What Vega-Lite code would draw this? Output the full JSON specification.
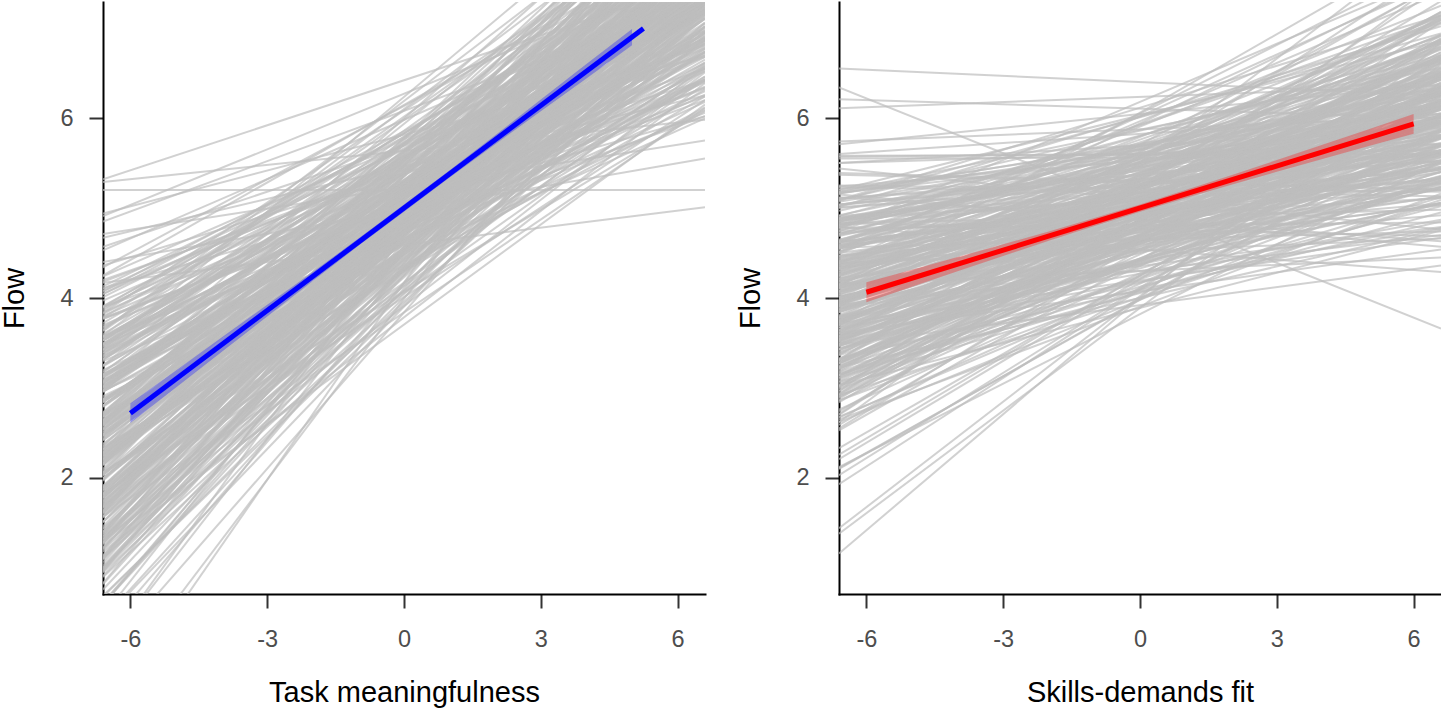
{
  "$schema": "https://vega.github.io/schema/vega-lite/v6.json",
  "background": "white",
  "padding": {"left": 0, "top": 2, "right": 0, "bottom": 0},
  "spacing": 31,
  "config": {
    "view": {"stroke": null},
    "font": "Liberation Sans",
    "axis": {
      "grid": false,
      "domainColor": "#000000",
      "domainWidth": 2,
      "domainCap": "square",
      "tickColor": "#333333",
      "tickWidth": 2,
      "tickSize": 14,
      "labelFont": "Liberation Sans",
      "labelFontSize": 23.5,
      "labelColor": "#4D4D4D",
      "labelFlush": false,
      "labelExpr": "'' + datum.value",
      "titleFont": "Liberation Sans",
      "titleFontSize": 29,
      "titleFontWeight": "normal",
      "titleColor": "#000000"
    },
    "axisX": {"labelPadding": 19, "titlePadding": 28},
    "axisY": {"labelPadding": 16, "titlePadding": 30}
  },
  "datasets": {
    "linesA": [
      {"l":-0.65,"r":8.99},{"l":-0.43,"r":8.41},{"l":0.09,"r":8.68},{"l":0.02,"r":7.66},{"l":0.28,"r":8.06},
      {"l":0.08,"r":9.35},{"l":0.43,"r":7.78},{"l":0.59,"r":8.51},{"l":0.42,"r":7.39},{"l":0.6,"r":7.9},
      {"l":0.47,"r":8.9},{"l":0.68,"r":7.33},{"l":0.61,"r":8.42},{"l":0.95,"r":7.14},{"l":0.76,"r":7.85},
      {"l":0.96,"r":8.77},{"l":0.69,"r":7.18},{"l":0.99,"r":8.16},{"l":1.12,"r":8.77},{"l":0.91,"r":7.79},
      {"l":1.06,"r":8.27},{"l":0.9,"r":7.02},{"l":1.1,"r":8.12},{"l":1.0,"r":8.53},{"l":1.33,"r":7.53},
      {"l":1.13,"r":7.89},{"l":1.31,"r":6.51},{"l":1.03,"r":7.66},{"l":1.32,"r":8.43},{"l":1.44,"r":7.44},
      {"l":1.22,"r":7.82},{"l":1.36,"r":9.01},{"l":1.2,"r":7.3},{"l":1.38,"r":8.37},{"l":1.28,"r":6.88},
      {"l":1.61,"r":7.8},{"l":1.4,"r":8.81},{"l":1.57,"r":7.21},{"l":1.29,"r":8.14},{"l":1.57,"r":6.11},
      {"l":1.68,"r":7.78},{"l":1.46,"r":8.29},{"l":1.6,"r":7.15},{"l":1.43,"r":8.11},{"l":1.61,"r":8.72},
      {"l":1.51,"r":7.55},{"l":1.83,"r":7.91},{"l":1.62,"r":7.01},{"l":1.79,"r":7.67},{"l":1.51,"r":8.53},
      {"l":1.78,"r":7.51},{"l":1.89,"r":7.84},{"l":1.67,"r":6.44},{"l":1.81,"r":7.32},{"l":1.63,"r":8.43},
      {"l":1.81,"r":7.02},{"l":1.71,"r":7.83},{"l":2.03,"r":9.05},{"l":1.81,"r":7.26},{"l":1.98,"r":8.18},
      {"l":1.69,"r":6.57},{"l":1.97,"r":7.81},{"l":2.08,"r":8.41},{"l":1.85,"r":7.23},{"l":1.99,"r":8.15},
      {"l":1.82,"r":6.2},{"l":1.99,"r":7.59},{"l":1.89,"r":7.99},{"l":2.2,"r":7.17},{"l":1.99,"r":7.71},
      {"l":2.15,"r":8.8},{"l":1.87,"r":7.57},{"l":2.15,"r":7.89},{"l":2.25,"r":6.86},{"l":2.03,"r":7.36},
      {"l":2.16,"r":8.56},{"l":1.99,"r":7.12},{"l":2.16,"r":7.88},{"l":2.06,"r":6.55},{"l":2.37,"r":7.31},
      {"l":2.16,"r":8.27},{"l":2.32,"r":6.73},{"l":2.04,"r":7.86},{"l":2.31,"r":8.71},{"l":2.42,"r":7.3},
      {"l":2.19,"r":8.21},{"l":2.33,"r":6.58},{"l":2.15,"r":7.64},{"l":2.32,"r":8.13},{"l":2.22,"r":7.27},
      {"l":2.53,"r":7.76},{"l":2.32,"r":6.32},{"l":2.48,"r":7.63},{"l":2.2,"r":7.99},{"l":2.47,"r":7.02},
      {"l":2.58,"r":7.42},{"l":2.35,"r":8.89},{"l":2.48,"r":7.19},{"l":2.31,"r":7.95},{"l":2.48,"r":6.91},
      {"l":2.38,"r":7.36},{"l":2.69,"r":8.42},{"l":2.48,"r":6.83},{"l":2.64,"r":7.91},{"l":2.35,"r":6.24},
      {"l":2.63,"r":7.36},{"l":2.73,"r":8.31},{"l":2.51,"r":6.74},{"l":2.64,"r":7.7},{"l":2.47,"r":8.49},
      {"l":2.64,"r":7.34},{"l":2.54,"r":7.84},{"l":2.85,"r":6.65},{"l":2.63,"r":7.68},{"l":2.8,"r":8.15},
      {"l":2.51,"r":7.11},{"l":2.79,"r":7.47},{"l":2.89,"r":6.42},{"l":2.67,"r":7.25},{"l":2.8,"r":8.05},
      {"l":2.63,"r":7.06},{"l":2.8,"r":7.41},{"l":2.7,"r":8.81},{"l":3.01,"r":6.9},{"l":2.8,"r":7.99},
      {"l":2.96,"r":6.55},{"l":2.68,"r":7.41},{"l":2.96,"r":8.48},{"l":3.06,"r":6.83},{"l":2.84,"r":7.75},
      {"l":2.97,"r":6.0},{"l":2.8,"r":7.4},{"l":2.97,"r":7.94},{"l":2.87,"r":6.79},{"l":3.18,"r":7.73},
      {"l":2.97,"r":8.58},{"l":3.14,"r":7.18},{"l":2.85,"r":7.54},{"l":3.13,"r":6.7},{"l":3.24,"r":7.29},
      {"l":3.01,"r":8.21},{"l":3.15,"r":7.15},{"l":2.98,"r":7.47},{"l":3.15,"r":6.3},{"l":3.05,"r":6.95},
      {"l":3.37,"r":8.08},{"l":3.15,"r":6.68},{"l":3.32,"r":7.45},{"l":3.04,"r":8.95},{"l":3.32,"r":6.89},
      {"l":3.43,"r":7.82},{"l":3.2,"r":6.26},{"l":3.34,"r":7.43},{"l":3.17,"r":8.1},{"l":3.35,"r":6.86},
      {"l":3.25,"r":7.77},{"l":3.57,"r":6.02},{"l":3.36,"r":7.21},{"l":3.53,"r":7.63},{"l":3.25,"r":6.81},
      {"l":3.53,"r":7.32},{"l":3.64,"r":8.74},{"l":3.42,"r":7.19},{"l":3.56,"r":7.52},{"l":3.39,"r":6.52},
      {"l":3.58,"r":6.97},{"l":3.48,"r":8.24},{"l":3.8,"r":6.73},{"l":3.6,"r":7.48},{"l":3.77,"r":6.33},
      {"l":3.49,"r":6.9},{"l":3.78,"r":7.88},{"l":3.9,"r":6.34},{"l":3.68,"r":7.44},{"l":3.83,"r":8.34},
      {"l":3.67,"r":6.88},{"l":3.86,"r":7.8},{"l":3.77,"r":6.2},{"l":4.1,"r":7.2},{"l":3.9,"r":7.76},
      {"l":4.08,"r":6.83},{"l":3.82,"r":7.31},{"l":4.11,"r":6.02},{"l":4.24,"r":7.16},{"l":4.04,"r":7.54},
      {"l":4.2,"r":6.55},{"l":4.05,"r":6.92},{"l":4.25,"r":8.04},{"l":4.18,"r":6.68},{"l":4.53,"r":7.43},
      {"l":4.36,"r":6.42},{"l":4.57,"r":6.81},{"l":4.34,"r":7.93},{"l":4.67,"r":6.25},{"l":4.85,"r":7.31},
      {"l":4.71,"r":5.75},{"l":4.94,"r":6.69},{"l":4.91,"r":7.63},{"l":5.29,"r":5.98},{"l":5.32,"r":7.52},
      {"l":5.2,"r":5.2},{"l":4.17,"r":5.01},{"l":4.4,"r":5.55},
      {"l":0.83,"r":8.81},{"l":1.01,"r":7.27},{"l":0.61,"r":8.04},{"l":1.1,"r":8.81},{"l":1.09,"r":7.88},
      {"l":0.98,"r":8.15},{"l":1.11,"r":7.06},{"l":0.82,"r":8.21},{"l":1.21,"r":8.41},{"l":0.97,"r":7.57},
      {"l":1.4,"r":7.98},{"l":1.18,"r":6.39},{"l":1.23,"r":7.7},{"l":1.14,"r":8.52},{"l":1.29,"r":7.32},
      {"l":1.51,"r":7.86},{"l":1.27,"r":9.1},{"l":1.28,"r":7.18},{"l":1.31,"r":8.41},{"l":1.35,"r":6.97},
      {"l":1.35,"r":7.68},{"l":1.66,"r":8.85},{"l":1.32,"r":7.3},{"l":1.68,"r":8.02},{"l":1.26,"r":6.15},
      {"l":1.64,"r":7.87},{"l":1.73,"r":8.17},{"l":1.38,"r":7.19},{"l":1.71,"r":8.2},{"l":1.4,"r":8.6},
      {"l":1.68,"r":7.59},{"l":1.56,"r":8.0},{"l":1.75,"r":6.89},{"l":1.73,"r":7.71},{"l":1.76,"r":8.62},
      {"l":1.58,"r":7.39},{"l":1.83,"r":7.88},{"l":1.81,"r":6.53},{"l":1.78,"r":7.2},{"l":1.78,"r":8.47},
      {"l":1.7,"r":7.11},{"l":1.86,"r":7.71},{"l":1.63,"r":9.09},{"l":2.14,"r":7.35},{"l":1.78,"r":8.06},
      {"l":2.05,"r":6.61},{"l":1.74,"r":7.9},{"l":1.89,"r":8.29},{"l":2.19,"r":7.27},{"l":1.82,"r":8.24},
      {"l":2.06,"r":6.08},{"l":1.87,"r":7.63},{"l":1.91,"r":8.08},{"l":2.0,"r":7.05},{"l":2.17,"r":7.75},
      {"l":2.06,"r":8.89},{"l":2.2,"r":7.45},{"l":1.79,"r":7.93},{"l":2.26,"r":6.95},{"l":2.22,"r":7.24},
      {"l":2.1,"r":8.6},{"l":2.21,"r":7.21},{"l":1.91,"r":7.76},{"l":2.27,"r":6.59},{"l":2.03,"r":7.4},
      {"l":2.44,"r":8.15},{"l":2.21,"r":6.77},{"l":2.24,"r":7.95},{"l":2.15,"r":8.59},{"l":2.28,"r":7.34},
      {"l":2.49,"r":8.3},{"l":2.24,"r":6.46},{"l":2.25,"r":7.68},{"l":2.26,"r":8.22},{"l":2.29,"r":7.15},
      {"l":2.29,"r":7.8},{"l":2.58,"r":6.41},{"l":2.24,"r":7.51},{"l":2.59,"r":8.03},{"l":2.17,"r":7.11},
      {"l":2.54,"r":7.3},{"l":2.63,"r":8.93},{"l":2.27,"r":7.28},{"l":2.59,"r":7.83},{"l":2.28,"r":6.95},
      {"l":2.55,"r":7.45},{"l":2.43,"r":8.3},{"l":2.61,"r":6.87},{"l":2.59,"r":8.0},{"l":2.61,"r":6.12},
      {"l":2.42,"r":7.4},{"l":2.68,"r":8.4},{"l":2.65,"r":6.62},{"l":2.62,"r":7.74},{"l":2.61,"r":8.58},
      {"l":2.54,"r":7.22},{"l":2.69,"r":7.88},{"l":2.46,"r":6.74},{"l":2.96,"r":7.56},{"l":2.6,"r":8.19},
      {"l":2.87,"r":7.2},{"l":2.56,"r":7.35},{"l":2.71,"r":6.46},{"l":3.0,"r":7.34},{"l":2.64,"r":7.93},
      {"l":2.87,"r":7.1},{"l":2.68,"r":7.5},{"l":2.72,"r":8.69},{"l":2.81,"r":6.94},{"l":2.98,"r":8.08},
      {"l":2.87,"r":6.43},{"l":3.01,"r":7.45},{"l":2.6,"r":8.57},{"l":3.07,"r":6.71},{"l":3.03,"r":7.79},
      {"l":2.91,"r":6.09},{"l":3.02,"r":7.28},{"l":2.72,"r":7.98},{"l":3.08,"r":6.88},{"l":2.84,"r":7.61},
      {"l":3.25,"r":8.62},{"l":3.02,"r":7.27},{"l":3.06,"r":7.42},{"l":2.96,"r":6.74},{"l":3.1,"r":7.38},
      {"l":3.31,"r":8.09},{"l":3.06,"r":7.19},{"l":3.07,"r":7.56},{"l":3.09,"r":6.18},{"l":3.12,"r":6.99},
      {"l":3.12,"r":8.17},{"l":3.42,"r":6.56},{"l":3.07,"r":7.49},{"l":3.43,"r":9.04},{"l":3.01,"r":6.77},
      {"l":3.39,"r":7.86},{"l":3.48,"r":6.35},{"l":3.12,"r":7.31},{"l":3.45,"r":8.14},{"l":3.14,"r":6.95},
      {"l":3.42,"r":7.65},{"l":3.3,"r":6.06},{"l":3.49,"r":7.3},{"l":3.47,"r":7.51},{"l":3.5,"r":6.85},
      {"l":3.32,"r":7.41},{"l":3.58,"r":8.62},{"l":3.56,"r":7.23},{"l":3.53,"r":7.61},{"l":3.53,"r":6.4},
      {"l":3.46,"r":7.01},{"l":3.63,"r":8.33},{"l":3.4,"r":6.61},{"l":3.91,"r":7.52},{"l":3.57,"r":6.42},
      {"l":3.84,"r":6.78},{"l":3.54,"r":7.92},{"l":3.7,"r":6.43},{"l":4.01,"r":7.32},{"l":3.65,"r":8.38},
      {"l":3.9,"r":6.97},{"l":3.72,"r":7.68},{"l":3.78,"r":6.24},{"l":3.88,"r":7.29},{"l":4.07,"r":7.64},
      {"l":3.97,"r":6.87},{"l":4.13,"r":7.4}
    ],
    "linesB": [
      {"l":1.44,"r":6.6},{"l":3.61,"r":4.54},{"l":4.79,"r":4.29},{"l":3.03,"r":4.75},{"l":4.15,"r":4.45},
      {"l":5.12,"r":4.63},{"l":3.58,"r":4.78},{"l":4.56,"r":4.74},{"l":2.65,"r":5.16},{"l":3.92,"r":4.79},
      {"l":4.78,"r":4.84},{"l":3.33,"r":4.85},{"l":4.15,"r":5.04},{"l":1.93,"r":6.26},{"l":3.69,"r":5.06},
      {"l":4.74,"r":5.11},{"l":2.92,"r":5.09},{"l":4.13,"r":5.13},{"l":5.44,"r":4.76},{"l":3.47,"r":5.29},
      {"l":4.47,"r":5.05},{"l":2.62,"r":5.34},{"l":3.91,"r":5.35},{"l":4.83,"r":4.98},{"l":3.49,"r":5.36},
      {"l":4.22,"r":5.03},{"l":2.03,"r":6.2},{"l":3.58,"r":5.27},{"l":4.72,"r":5.2},{"l":3.22,"r":5.57},
      {"l":4.02,"r":5.21},{"l":5.37,"r":5.2},{"l":3.43,"r":5.23},{"l":4.46,"r":5.4},{"l":2.68,"r":5.5},
      {"l":4.07,"r":5.4},{"l":4.91,"r":5.42},{"l":3.44,"r":5.4},{"l":4.11,"r":5.44},{"l":2.12,"r":5.52},
      {"l":3.87,"r":5.59},{"l":4.62,"r":5.33},{"l":3.14,"r":5.59},{"l":3.97,"r":5.62},{"l":5.39,"r":5.21},
      {"l":3.47,"r":5.62},{"l":4.63,"r":5.28},{"l":2.76,"r":5.79},{"l":4.01,"r":5.51},{"l":4.81,"r":5.43},
      {"l":3.42,"r":5.8},{"l":4.41,"r":5.44},{"l":2.1,"r":5.88},{"l":3.78,"r":5.45},{"l":4.57,"r":5.62},
      {"l":3.14,"r":5.69},{"l":4.01,"r":5.61},{"l":5.58,"r":5.6},{"l":3.54,"r":5.61},{"l":4.57,"r":5.64},
      {"l":2.67,"r":5.65},{"l":3.99,"r":5.79},{"l":5.11,"r":5.52},{"l":3.31,"r":5.78},{"l":4.32,"r":5.82},
      {"l":2.11,"r":5.85},{"l":3.77,"r":5.81},{"l":4.62,"r":5.46},{"l":3.31,"r":5.96},{"l":4.08,"r":5.7},
      {"l":5.55,"r":5.57},{"l":3.43,"r":5.98},{"l":4.55,"r":5.62},{"l":2.97,"r":6.0},{"l":3.88,"r":5.63},
      {"l":5.04,"r":5.78},{"l":3.27,"r":5.86},{"l":4.31,"r":5.79},{"l":2.21,"r":6.21},{"l":3.93,"r":5.78},
      {"l":4.7,"r":5.81},{"l":3.25,"r":5.8},{"l":3.97,"r":5.96},{"l":5.57,"r":5.64},{"l":3.73,"r":5.94},
      {"l":4.45,"r":5.98},{"l":2.9,"r":5.96},{"l":3.84,"r":5.97},{"l":5.04,"r":5.61},{"l":3.31,"r":6.11},
      {"l":4.47,"r":5.86},{"l":2.33,"r":6.17},{"l":3.87,"r":6.14},{"l":4.59,"r":5.77},{"l":3.24,"r":6.14},
      {"l":4.27,"r":5.79},{"l":5.5,"r":5.89},{"l":3.64,"r":6.02},{"l":4.4,"r":5.94},{"l":2.9,"r":6.32},
      {"l":3.88,"r":5.93},{"l":5.21,"r":5.95},{"l":3.39,"r":5.94},{"l":4.42,"r":6.11},{"l":2.26,"r":6.24},
      {"l":3.86,"r":6.1},{"l":4.89,"r":6.13},{"l":3.14,"r":6.1},{"l":4.18,"r":6.13},{"l":5.5,"r":5.71},
      {"l":3.63,"r":6.27},{"l":4.44,"r":6.01},{"l":3.07,"r":6.28},{"l":3.95,"r":6.3},{"l":5.17,"r":5.91},
      {"l":3.28,"r":6.29},{"l":4.4,"r":5.94},{"l":2.59,"r":6.48},{"l":3.75,"r":6.17},{"l":4.81,"r":6.09},
      {"l":3.09,"r":6.46},{"l":4.17,"r":6.09},{"l":5.6,"r":6.05},{"l":3.79,"r":6.1},{"l":4.52,"r":6.27},
      {"l":3.03,"r":6.35},{"l":3.84,"r":6.26},{"l":5.16,"r":6.27},{"l":3.57,"r":6.25},{"l":4.29,"r":6.29},
      {"l":2.53,"r":6.32},{"l":3.7,"r":6.43},{"l":4.8,"r":6.17},{"l":3.14,"r":6.43},{"l":4.33,"r":6.46},
      {"l":5.74,"r":6.01},{"l":3.73,"r":6.45},{"l":4.41,"r":6.11},{"l":3.02,"r":6.61},{"l":4.13,"r":6.34},
      {"l":5.07,"r":6.24},{"l":3.49,"r":6.62},{"l":4.24,"r":6.26},{"l":2.55,"r":6.67},{"l":3.74,"r":6.27},
      {"l":4.97,"r":6.43},{"l":3.21,"r":6.51},{"l":4.27,"r":6.44},{"l":5.71,"r":6.38},{"l":3.72,"r":6.43},
      {"l":4.71,"r":6.47},{"l":2.92,"r":6.46},{"l":4.04,"r":6.62},{"l":5.03,"r":6.34},{"l":3.48,"r":6.61},
      {"l":4.29,"r":6.65},{"l":2.74,"r":6.65},{"l":3.81,"r":6.65},{"l":4.92,"r":6.3},{"l":3.11,"r":6.8},
      {"l":4.25,"r":6.55},{"l":6.11,"r":6.36},{"l":3.61,"r":6.83},{"l":4.62,"r":6.47},{"l":2.88,"r":6.85},
      {"l":4.03,"r":6.49},{"l":5.09,"r":6.63},{"l":3.64,"r":6.73},{"l":4.36,"r":6.67},{"l":2.7,"r":7.07},
      {"l":3.7,"r":6.67},{"l":4.91,"r":6.7},{"l":3.4,"r":6.7},{"l":4.15,"r":6.87},{"l":6.21,"r":6.0},
      {"l":3.56,"r":6.87},{"l":4.61,"r":6.91},{"l":2.93,"r":6.89},{"l":4.19,"r":6.93},{"l":5.18,"r":6.56},
      {"l":3.58,"r":7.09},{"l":4.25,"r":6.85},{"l":2.71,"r":7.14},{"l":4.0,"r":7.15},{"l":4.81,"r":6.79},
      {"l":3.32,"r":7.18},{"l":4.1,"r":6.85},{"l":6.55,"r":6.25},{"l":3.6,"r":7.11},{"l":4.78,"r":7.06},
      {"l":3.01,"r":7.46},{"l":4.14,"r":7.11},{"l":5.09,"r":7.14},{"l":3.57,"r":7.18},{"l":4.54,"r":7.39},
      {"l":2.62,"r":7.54},{"l":3.91,"r":7.5},{"l":4.76,"r":7.6},{"l":3.31,"r":7.7},{"l":4.14,"r":7.98},
      {"l":6.34,"r":3.66},{"l":1.16,"r":6.84},{"l":1.38,"r":6.4},
      {"l":3.55,"r":5.86},{"l":4.88,"r":5.97},{"l":3.0,"r":6.18},{"l":4.21,"r":6.15},{"l":5.16,"r":6.13},
      {"l":3.52,"r":6.2},{"l":4.65,"r":6.01},{"l":3.98,"r":5.78},{"l":4.82,"r":6.18},{"l":3.27,"r":6.04},
      {"l":4.24,"r":6.35},{"l":3.75,"r":5.94},{"l":4.78,"r":6.36},{"l":2.86,"r":5.85},{"l":4.22,"r":6.51},
      {"l":3.53,"r":6.0},{"l":4.51,"r":6.49},{"l":4.0,"r":5.96},{"l":4.8,"r":6.13},{"l":3.55,"r":6.34},
      {"l":4.26,"r":6.26},{"l":3.67,"r":6.34},{"l":4.69,"r":6.16},{"l":3.28,"r":6.32},{"l":4.06,"r":6.39},
      {"l":3.52,"r":6.2},{"l":4.43,"r":6.5},{"l":4.11,"r":6.04},{"l":4.85,"r":6.52},{"l":3.53,"r":6.02},
      {"l":4.08,"r":6.64},{"l":3.91,"r":6.15},{"l":4.56,"r":6.65},{"l":3.23,"r":6.33},{"l":3.94,"r":6.58},
      {"l":3.51,"r":6.5},{"l":4.57,"r":6.42},{"l":3.98,"r":6.45},{"l":4.87,"r":6.34},{"l":3.46,"r":6.5},
      {"l":4.35,"r":6.53},{"l":3.75,"r":6.37},{"l":4.63,"r":6.68},{"l":3.18,"r":6.56},{"l":3.95,"r":6.68},
      {"l":3.51,"r":6.21},{"l":4.63,"r":6.83},{"l":3.93,"r":6.27},{"l":5.2,"r":6.86},{"l":3.28,"r":6.54},
      {"l":4.38,"r":6.76},{"l":3.71,"r":6.7},{"l":4.71,"r":6.64},{"l":3.28,"r":6.7},{"l":4.14,"r":7.14},
      {"l":3.37,"r":6.73},{"l":4.64,"r":6.77},{"l":2.94,"r":6.78},{"l":3.94,"r":6.03},{"l":5.08,"r":6.94},
      {"l":3.21,"r":6.82},{"l":4.4,"r":6.92},{"l":3.99,"r":6.47},{"l":4.74,"r":7.12},{"l":3.19,"r":6.92},
      {"l":4.06,"r":7.05},{"l":3.79,"r":6.86},{"l":4.49,"r":7.09},{"l":2.84,"r":6.88},{"l":3.93,"r":6.32},
      {"l":5.01,"r":7.02},{"l":3.37,"r":7.09},{"l":4.51,"r":7.53},{"l":3.96,"r":7.17},{"l":4.56,"r":7.25},
      {"l":3.3,"r":7.3},{"l":4.31,"r":7.57},{"l":3.73,"r":7.51},{"l":4.37,"r":7.73},{"l":2.96,"r":8.05},
      {"l":3.92,"r":6.51},{"l":5.15,"r":4.57},{"l":3.48,"r":4.36},{"l":4.39,"r":4.66},{"l":3.9,"r":4.7},
      {"l":4.83,"r":4.69},{"l":3.23,"r":4.77},{"l":4.15,"r":5.23},{"l":3.67,"r":4.87},{"l":4.38,"r":4.92},
      {"l":3.16,"r":4.95},{"l":3.92,"r":6.29},{"l":5.23,"r":5.13},{"l":3.32,"r":5.02},{"l":4.34,"r":5.12},
      {"l":3.72,"r":4.67},{"l":4.87,"r":5.32},{"l":3.13,"r":5.12},{"l":4.11,"r":5.25},{"l":3.76,"r":5.05},
      {"l":4.58,"r":5.27},{"l":3.07,"r":5.06},{"l":3.78,"r":6.27},{"l":5.25,"r":5.18},{"l":3.54,"r":5.23},
      {"l":4.35,"r":5.64},{"l":3.64,"r":5.23},{"l":4.89,"r":5.3},{"l":3.11,"r":5.31},{"l":4.39,"r":5.53},
      {"l":3.67,"r":5.33},{"l":4.5,"r":5.43},{"l":2.99,"r":5.51},{"l":4.19,"r":5.43},{"l":5.11,"r":5.62},
      {"l":3.43,"r":5.4},{"l":4.33,"r":5.5},{"l":3.8,"r":5.28},{"l":5.01,"r":5.53},{"l":3.15,"r":5.31},
      {"l":4.36,"r":5.86},{"l":3.78,"r":5.46},{"l":4.75,"r":5.87},{"l":2.86,"r":5.35},{"l":4.13,"r":5.91},
      {"l":5.0,"r":5.52},{"l":3.54,"r":5.53},{"l":4.33,"r":5.72},{"l":3.9,"r":5.51},{"l":4.89,"r":5.64},
      {"l":3.17,"r":5.71},{"l":4.29,"r":5.56},{"l":3.7,"r":5.59},{"l":4.59,"r":5.69},{"l":4.07,"r":5.92},
      {"l":5.03,"r":5.72},{"l":3.73,"r":5.49},{"l":4.33,"r":6.03},{"l":3.74,"r":5.6},{"l":4.85,"r":6.05},
      {"l":3.49,"r":5.53},{"l":4.12,"r":6.03},{"l":3.6,"r":5.69},{"l":4.55,"r":5.89},{"l":3.02,"r":5.86},
      {"l":4.16,"r":6.12},{"l":5.24,"r":5.81},{"l":3.62,"r":5.88},{"l":4.19,"r":5.71},{"l":3.97,"r":5.71},
      {"l":4.87,"r":5.85},{"l":3.36,"r":6.01},{"l":4.04,"r":6.03},{"l":3.57,"r":5.64},{"l":4.84,"r":6.18},
      {"l":3.05,"r":5.77},{"l":4.08,"r":6.2},{"l":5.18,"r":6.21},{"l":3.54,"r":5.68},{"l":4.6,"r":6.17},
      {"l":3.85,"r":5.8},{"l":4.85,"r":6.05},{"l":3.28,"r":6.01},{"l":4.2,"r":6.23}
    ],
    "bandA": [
      {"x":-6,"lo":2.61,"hi":2.83},{"x":-5,"lo":3.006,"hi":3.194},{"x":-4,"lo":3.4,"hi":3.56},
      {"x":-3,"lo":3.795,"hi":3.925},{"x":-2,"lo":4.19,"hi":4.29},{"x":-1,"lo":4.58,"hi":4.66},
      {"x":0,"lo":4.96,"hi":5.04},{"x":1,"lo":5.34,"hi":5.42},{"x":2,"lo":5.71,"hi":5.81},
      {"x":3,"lo":6.075,"hi":6.205},{"x":4,"lo":6.44,"hi":6.6},{"x":5,"lo":6.81,"hi":6.99}
    ],
    "fitA": [{"x":-6,"y":2.72},{"x":5.25,"y":6.995}],
    "bandB": [
      {"x":-6,"lo":3.954,"hi":4.174},{"x":-5,"lo":4.126,"hi":4.314},{"x":-4,"lo":4.297,"hi":4.455},
      {"x":-3,"lo":4.467,"hi":4.597},{"x":-2,"lo":4.636,"hi":4.74},{"x":-1,"lo":4.8,"hi":4.888},
      {"x":0,"lo":4.96,"hi":5.04},{"x":1,"lo":5.112,"hi":5.2},{"x":2,"lo":5.26,"hi":5.364},
      {"x":3,"lo":5.403,"hi":5.533},{"x":4,"lo":5.545,"hi":5.703},{"x":5,"lo":5.686,"hi":5.874},
      {"x":6,"lo":5.826,"hi":6.046}
    ],
    "fitB": [{"x":-6,"y":4.064},{"x":6,"y":5.936}]
  },
  "hconcat": [
    {
      "width": 602,
      "height": 592,
      "layer": [
        {
          "data": {"name": "linesA"},
          "mark": {"type": "rule", "clip": true, "color": "#BEBEBE", "opacity": 0.7, "strokeWidth": 2},
          "encoding": {
            "x": {"datum": -6.6, "type": "quantitative", "scale": {"domain": [-6.6, 6.6], "nice": false, "zero": false}, "axis": {"values": [-6, -3, 0, 3, 6]}, "title": "Task meaningfulness"},
            "x2": {"datum": 6.6},
            "y": {"field": "l", "type": "quantitative", "scale": {"domain": [0.71, 7.29], "nice": false, "zero": false}, "axis": {"values": [2, 4, 6]}, "title": "Flow"},
            "y2": {"field": "r"}
          }
        },
        {
          "data": {"name": "bandA"},
          "mark": {"type": "area", "color": "#0000FF", "opacity": 0.3},
          "encoding": {
            "x": {"field": "x", "type": "quantitative", "title": "Task meaningfulness"},
            "y": {"field": "lo", "type": "quantitative", "title": "Flow"},
            "y2": {"field": "hi"}
          }
        },
        {
          "data": {"name": "fitA"},
          "mark": {"type": "line", "color": "#0000FF", "strokeWidth": 5},
          "encoding": {
            "x": {"field": "x", "type": "quantitative", "title": "Task meaningfulness"},
            "y": {"field": "y", "type": "quantitative", "title": "Flow"}
          }
        }
      ]
    },
    {
      "width": 602,
      "height": 592,
      "layer": [
        {
          "data": {"name": "linesB"},
          "mark": {"type": "rule", "clip": true, "color": "#BEBEBE", "opacity": 0.7, "strokeWidth": 2},
          "encoding": {
            "x": {"datum": -6.6, "type": "quantitative", "scale": {"domain": [-6.6, 6.6], "nice": false, "zero": false}, "axis": {"values": [-6, -3, 0, 3, 6]}, "title": "Skills-demands fit"},
            "x2": {"datum": 6.6},
            "y": {"field": "l", "type": "quantitative", "scale": {"domain": [0.71, 7.29], "nice": false, "zero": false}, "axis": {"values": [2, 4, 6]}, "title": "Flow"},
            "y2": {"field": "r"}
          }
        },
        {
          "data": {"name": "bandB"},
          "mark": {"type": "area", "color": "#FF0000", "opacity": 0.3},
          "encoding": {
            "x": {"field": "x", "type": "quantitative", "title": "Skills-demands fit"},
            "y": {"field": "lo", "type": "quantitative", "title": "Flow"},
            "y2": {"field": "hi"}
          }
        },
        {
          "data": {"name": "fitB"},
          "mark": {"type": "line", "color": "#FF0000", "strokeWidth": 5},
          "encoding": {
            "x": {"field": "x", "type": "quantitative", "title": "Skills-demands fit"},
            "y": {"field": "y", "type": "quantitative", "title": "Flow"}
          }
        }
      ]
    }
  ]
}
